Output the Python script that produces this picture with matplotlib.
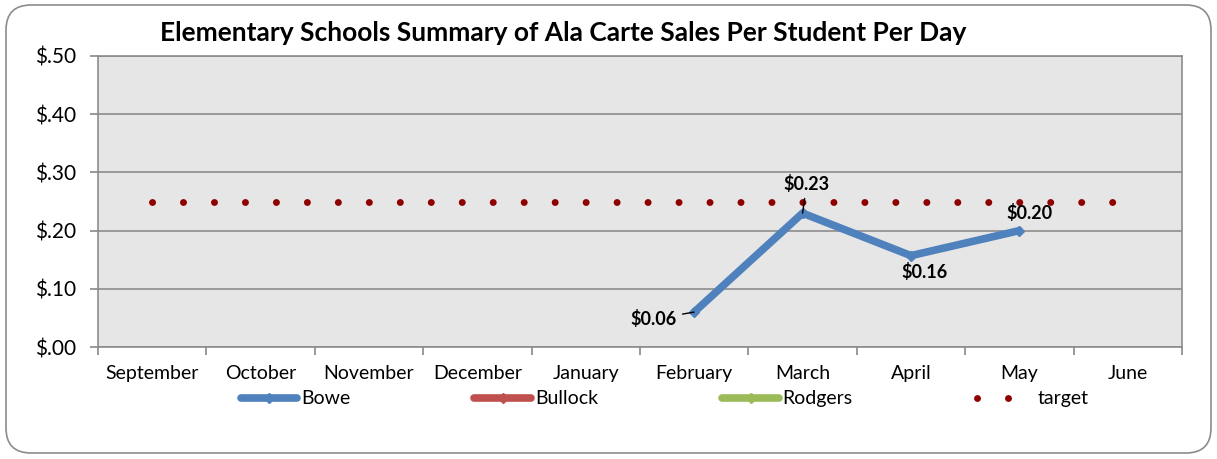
import numpy as np
import matplotlib
matplotlib.use("Agg")
import matplotlib.pyplot as plt
from matplotlib.patches import FancyBboxPatch
from matplotlib.transforms import IdentityTransform

plt.rcParams['font.family'] = ['Lato', 'DejaVu Sans']

months = ["September", "October", "November", "December", "January",
          "February", "March", "April", "May", "June"]
bowe = [np.nan, np.nan, np.nan, np.nan, np.nan, 0.06, 0.23, 0.157, 0.20, np.nan]
bullock = [np.nan] * 10
rodgers = [np.nan] * 10
target = [0.25] * 10
yticks = [0.0, 0.1, 0.2, 0.3, 0.4, 0.5]
ytick_labels = ["$.00", "$.10", "$.20", "$.30", "$.40", "$.50"]

# label offsets (points) for the Bowe data labels
label_pos = {5: (-29, -5), 6: (3, 21), 7: (10, -12), 8: (7, 13)}

fig = plt.figure(figsize=(12.17, 4.59), dpi=100)
ax = fig.add_axes([0.0805, 0.244, 0.8907, 0.634])
ax.set_facecolor("#E6E6E6")

x = np.arange(len(months)) + 0.5

ax.plot(x, bowe, color="#4F81BD", lw=5.5, marker="D", ms=5, label="Bowe",
        solid_capstyle="round", solid_joinstyle="round", zorder=4)
ax.plot(x, bullock, color="#C0504D", lw=5.5, marker="D", ms=5, label="Bullock",
        solid_capstyle="round")
ax.plot(x, rodgers, color="#9BBB59", lw=5.5, marker="D", ms=5, label="Rodgers",
        solid_capstyle="round")
ax.plot(x, target, color="#8E0000", lw=5, linestyle=(0, (0.01, 4.45)),
        dash_capstyle="round", label="target", zorder=3)

for i, (dx, dy) in label_pos.items():
    v = bowe[i]
    arrow = None
    if i in (5, 6):
        arrow = dict(arrowstyle="-", color="black", lw=1, shrinkA=2, shrinkB=0)
    ax.annotate("$%.2f" % v, (x[i], v), xytext=(dx, dy), textcoords="offset points",
                ha="center", va="center", fontsize=13, fontweight="bold",
                arrowprops=arrow, zorder=5)

ax.set_xlim(0, 10)
ax.set_ylim(0, 0.5)
ax.set_yticks(yticks)
ax.set_yticklabels(ytick_labels, fontsize=15)
ax.set_xticks(np.arange(0, 11))
ax.set_xticklabels([])
ax.set_xticks(x, minor=True)
ax.set_xticklabels(months, minor=True, fontsize=14)
ax.tick_params(axis="x", which="minor", length=0, pad=13)
ax.tick_params(axis="x", which="major", length=6, color="#888888", width=1.2)
ax.tick_params(axis="y", length=6, color="#888888", width=1.2, pad=10)
ax.grid(axis="y", color="#8C8C8C", lw=1.2)
ax.set_axisbelow(True)
for s in ax.spines.values():
    s.set_color("#8C8C8C")
    s.set_linewidth(1.2)

fig.text(0.463, 0.928, "Elementary Schools Summary of Ala Carte Sales Per Student Per Day",
         ha="center", va="center", fontsize=19, fontweight="bold")

fig.legend(loc="center", bbox_to_anchor=(0.546, 0.131), ncol=4, frameon=False,
           fontsize=14, handlelength=2.9, handletextpad=0.2, columnspacing=6.4,
           borderpad=0, borderaxespad=0)

border = FancyBboxPatch((6, 6), 1205, 448, boxstyle="round,pad=0,rounding_size=25",
                        transform=IdentityTransform(), facecolor="none",
                        edgecolor="#8C8C8C", lw=1.2)
fig.patches.append(border)

fig.savefig("out.png", dpi=100)
